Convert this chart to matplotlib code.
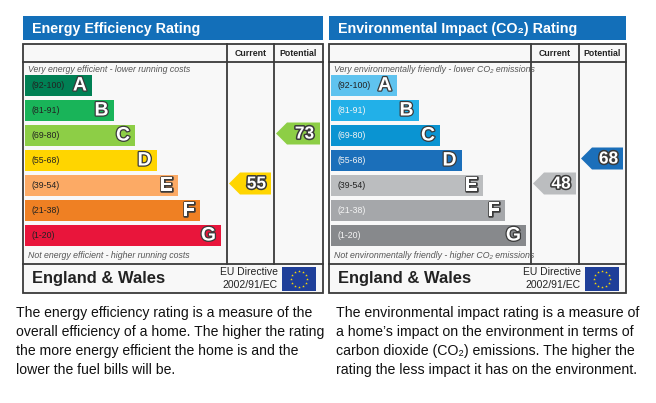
import matplotlib
matplotlib.use('Agg')
import matplotlib.pyplot as plt
from matplotlib.patches import Rectangle, Polygon
import matplotlib.patheffects as pe
import numpy as np

plt.rcParams['font.family'] = ['Liberation Sans', 'DejaVu Sans']

# ---------------- data ----------------
bands = ['A', 'B', 'C', 'D', 'E', 'F', 'G']
ranges = ['(92-100)', '(81-91)', '(69-80)', '(55-68)', '(39-54)', '(21-38)', '(1-20)']
range_low = [92, 81, 69, 55, 39, 21, 1]
ee_colors = ['#008054', '#19b459', '#8dce46', '#ffd500', '#fcaa65', '#ef8023', '#e9153b']
ei_colors = ['#5fc3ef', '#22b0e8', '#0a94d2', '#1b6fba', '#bbbdbf', '#a5a7aa', '#87898c']
ee_range_text = ['#222222'] * 7
ei_range_text = ['#222222', '#f4f4f4', '#f4f4f4', '#f4f4f4', '#222222', '#f4f4f4', '#f4f4f4']

ee_title = 'Energy Efficiency Rating'
ei_title = 'Environmental Impact (CO\u2082) Rating'
ee_top_note = 'Very energy efficient - lower running costs'
ee_bottom_note = 'Not energy efficient - higher running costs'
ei_top_note = 'Very environmentally friendly - lower CO\u2082 emissions'
ei_bottom_note = 'Not environmentally friendly - higher CO\u2082 emissions'

ee_current, ee_potential = 55, 73
ei_current, ei_potential = 48, 68
# row in which each indicator is drawn
ee_current_row, ee_potential_row = 'E', 'C'
ei_current_row, ei_potential_row = 'E', 'D'

ee_text = ['The energy efficiency rating is a measure of the',
           'overall efficiency of a home. The higher the rating',
           'the more energy efficient the home is and the',
           'lower the fuel bills will be.']
ei_text = ['The environmental impact rating is a measure of',
           'a home\u2019s impact on the environment in terms of',
           'carbon dioxide (CO\u2082) emissions. The higher the',
           'rating the less impact it has on the environment.']

# ---------------- figure ----------------
W, H = 656, 403
fig = plt.figure(figsize=(W / 100, H / 100), dpi=100)
ax = fig.add_axes([0, 0, 1, 1])
ax.set_xlim(0, W)
ax.set_ylim(H, 0)
ax.axis('off')
fig.patch.set_facecolor('white')

TITLE_BLUE = '#136fb9'
LINE = '#3a3a3a'
stroke = [pe.withStroke(linewidth=1.8, foreground='#3a3a3a')]


def band_index(v):
    for i, lo in enumerate(range_low):
        if v >= lo:
            return i
    return len(range_low) - 1


def panel(x0, x1, c1, c2, title, top_note, bottom_note, colors, rtext,
          cur, pot, cur_row, pot_row, base_w):
    # title bar
    ax.add_patch(Rectangle((x0, 16), x1 - x0, 24, facecolor=TITLE_BLUE, edgecolor='none'))
    ax.text(x0 + 9, 28.5, title, color='white', fontsize=10.3, fontweight='bold',
            va='center', ha='left')
    # table
    ax.add_patch(Rectangle((x0, 44), x1 - x0, 249, facecolor='#f8f8f8',
                           edgecolor=LINE, lw=1.3))
    ax.plot([x0, x1], [62, 62], color=LINE, lw=1.3)
    ax.plot([x0, x1], [264, 264], color=LINE, lw=1.3)
    ax.plot([c1, c1], [44, 264], color=LINE, lw=1.3)
    ax.plot([c2, c2], [44, 264], color=LINE, lw=1.3)
    ax.text((c1 + c2) / 2, 53, 'Current', fontsize=6.3, fontweight='bold',
            ha='center', va='center', color='#222')
    ax.text((c2 + x1) / 2, 53, 'Potential', fontsize=6.3, fontweight='bold',
            ha='center', va='center', color='#222')
    ax.text(x0 + 5, 69, top_note, fontsize=6.3, style='italic', color='#555',
            ha='left', va='center')
    ax.text(x0 + 5, 256, bottom_note, fontsize=6.3, style='italic', color='#555',
            ha='left', va='center')

    idx = np.arange(len(bands))
    centers = 85.5 + idx * 25
    widths = base_w + idx * 21.5
    left = x0 + 2
    ax.barh(centers, widths, height=21.5, left=left, color=colors, edgecolor='none')
    for i in idx:
        ax.text(left + 6, centers[i], ranges[i], fontsize=6.3, color=rtext[i],
                ha='left', va='center')
        t = ax.text(left + widths[i] - 5, centers[i] + 0.5, bands[i], fontsize=14,
                    fontweight='bold', color='white', ha='right', va='center')
        t.set_path_effects(stroke)

    def arrow(colx0, colx1, value, row):
        r = bands.index(row)
        cy = centers[r] - 2
        h = 22
        tip = 11
        xa, xb = colx0 + 2, colx1 - 3
        poly = Polygon([(xa, cy), (xa + tip, cy - h / 2), (xb, cy - h / 2),
                        (xb, cy + h / 2), (xa + tip, cy + h / 2)], closed=True,
                       facecolor=colors[band_index(value)], edgecolor='none')
        ax.add_patch(poly)
        t = ax.text((xa + tip + xb) / 2 + 1, cy + 0.5, str(value), fontsize=12.5,
                    fontweight='bold', color='white', ha='center', va='center')
        t.set_path_effects([pe.withStroke(linewidth=2.2, foreground='#3a3a3a')])

    arrow(c1, c2, cur, cur_row)
    arrow(c2, x1, pot, pot_row)

    # footer
    ax.text(x0 + 9, 279, 'England & Wales', fontsize=11.9, fontweight='bold',
            color='#222', ha='left', va='center')
    fx1 = x1 - 7
    fx0 = fx1 - 34
    ax.text(fx0 - 4, 272, 'EU Directive', fontsize=7.5, color='#222', ha='right', va='center')
    ax.text(fx0 - 4, 285.5, '2002/91/EC', fontsize=7.5, color='#222', ha='right', va='center')
    ax.add_patch(Rectangle((fx0, 267), 34, 24, facecolor='#1f3f99', edgecolor='none'))
    ang = np.linspace(0, 2 * np.pi, 12, endpoint=False)
    fcx, fcy = fx0 + 17, 279
    ax.scatter(fcx + 8 * np.cos(ang), fcy + 8 * np.sin(ang), marker='*', s=4,
               color='#ffdd00', linewidths=0)


panel(23, 323, 227, 274, ee_title, ee_top_note, ee_bottom_note, ee_colors,
      ee_range_text, ee_current, ee_potential, ee_current_row, ee_potential_row, 67)
panel(329, 626, 531, 579, ei_title, ei_top_note, ei_bottom_note, ei_colors,
      ei_range_text, ei_current, ei_potential, ei_current_row, ei_potential_row, 66)

for k, line in enumerate(ee_text):
    ax.text(16, 313 + k * 19, line, fontsize=10.1, color='#111', ha='left', va='center')
for k, line in enumerate(ei_text):
    ax.text(336, 313 + k * 19, line, fontsize=10.15, color='#111', ha='left', va='center')

fig.savefig('out.png', dpi=100)
